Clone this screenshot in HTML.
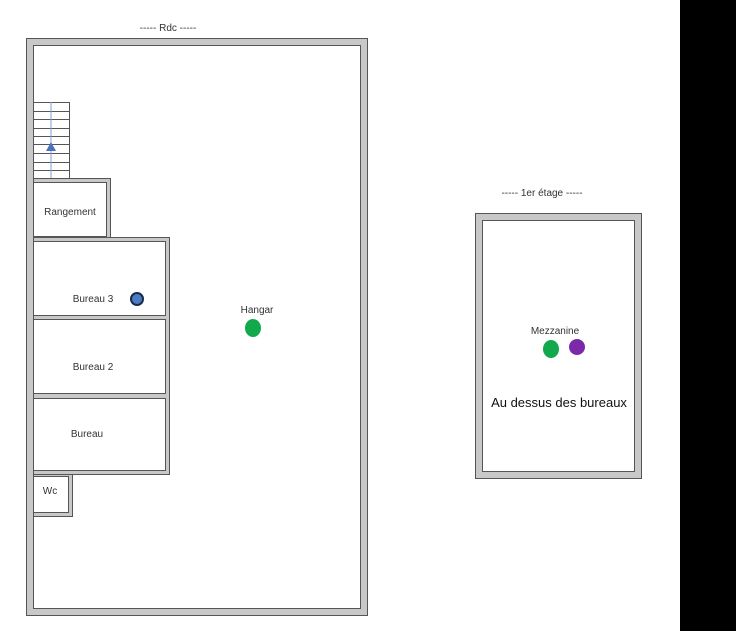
<!DOCTYPE html>
<html><head><meta charset="utf-8"><style>
html,body{margin:0;padding:0;background:#fff;}
svg{display:block}
text{font-family:"Liberation Sans",sans-serif;fill:#333}
</style></head><body>
<svg width="736" height="631" viewBox="0 0 736 631" xmlns="http://www.w3.org/2000/svg">
<rect x="0" y="0" width="736" height="631" fill="#fff"/>
<rect x="680" y="0" width="56" height="631" fill="#000"/>
<text x="168" y="31" font-size="10" text-anchor="middle">----- Rdc -----</text>
<text x="542" y="196" font-size="10" text-anchor="middle">----- 1er étage -----</text>
<!-- outer walls ground -->
<rect x="26.5" y="38.5" width="341" height="577" fill="#c8c8c8" stroke="#555"/>
<rect x="33.5" y="45.5" width="327" height="563" fill="#fff" stroke="#555"/>
<!-- stairs -->
<g stroke="#555" fill="none">
<rect x="33.5" y="102.5" width="36" height="76"/>
<line x1="33" y1="111.5" x2="70" y2="111.5"/>
<line x1="33" y1="119.5" x2="70" y2="119.5"/>
<line x1="33" y1="128.5" x2="70" y2="128.5"/>
<line x1="33" y1="136.5" x2="70" y2="136.5"/>
<line x1="33" y1="144.5" x2="70" y2="144.5"/>
<line x1="33" y1="153.5" x2="70" y2="153.5"/>
<line x1="33" y1="162.5" x2="70" y2="162.5"/>
<line x1="33" y1="170.5" x2="70" y2="170.5"/>
</g>
<line x1="51" y1="102" x2="51" y2="178" stroke="#7fa0d0" stroke-width="1"/>
<polygon points="51,142 46,151 56,151" fill="#4a72c0"/>
<!-- Rangement -->
<rect x="33.5" y="178.5" width="77" height="60" fill="#c8c8c8" stroke="#555"/>
<rect x="33.5" y="182.5" width="73" height="54" fill="#fff" stroke="#555"/>
<text x="70" y="215" font-size="10" text-anchor="middle">Rangement</text>
<!-- offices block -->
<rect x="33.5" y="237.5" width="136" height="237" fill="#c8c8c8" stroke="#555"/>
<rect x="33.5" y="241.5" width="132" height="74" fill="#fff" stroke="#555"/>
<rect x="33.5" y="319.5" width="132" height="74" fill="#fff" stroke="#555"/>
<rect x="33.5" y="398.5" width="132" height="72" fill="#fff" stroke="#555"/>
<text x="93" y="302" font-size="10" text-anchor="middle">Bureau 3</text>
<circle cx="137" cy="299" r="6" fill="#4a7cc4" stroke="#1a2a4a" stroke-width="2"/>
<text x="93" y="370" font-size="10" text-anchor="middle">Bureau 2</text>
<text x="87" y="437" font-size="10" text-anchor="middle">Bureau</text>
<!-- Wc -->
<rect x="33.5" y="474.5" width="39" height="42" fill="#c8c8c8" stroke="#555"/>
<rect x="33.5" y="476.5" width="35" height="36" fill="#fff" stroke="#555"/>
<text x="50" y="494" font-size="10" text-anchor="middle">Wc</text>
<!-- Hangar -->
<text x="257" y="313" font-size="10" text-anchor="middle">Hangar</text>
<ellipse cx="253" cy="328" rx="8" ry="9" fill="#12a84c"/>
<!-- first floor -->
<rect x="475.5" y="213.5" width="166" height="265" fill="#c8c8c8" stroke="#555"/>
<rect x="482.5" y="220.5" width="152" height="251" fill="#fff" stroke="#555"/>
<text x="555" y="334" font-size="10" text-anchor="middle">Mezzanine</text>
<ellipse cx="551" cy="349" rx="8" ry="9" fill="#12a84c"/>
<ellipse cx="577" cy="347" rx="8" ry="8" fill="#7a2aa8"/>
<text x="559" y="407" font-size="13" text-anchor="middle" style="fill:#111">Au dessus des bureaux</text>
</svg>
</body></html>
